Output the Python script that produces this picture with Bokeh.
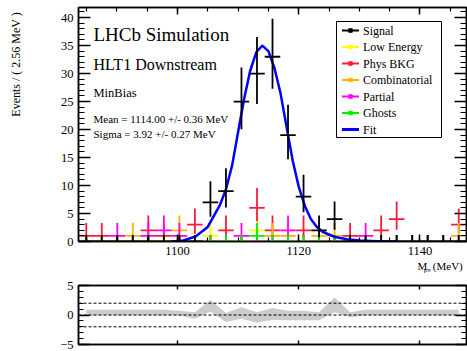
import numpy as np
from bokeh.plotting import figure
from bokeh.layouts import column, row
from bokeh.models import (Range1d, LinearAxis, SingleIntervalTicker, Label,
                          ColumnDataSource, Span)
from bokeh.core.properties import value
from bokeh.embed import file_html
from bokeh.resources import INLINE

FONT = "Liberation Serif"

# ---------------- data ----------------
X_MIN, X_MAX = 1083.68, 1147.68
Y_MAX = 41.8
BIN_WIDTH = 2.56
BIN_CENTERS = [1084.96, 1087.52, 1090.08, 1092.64, 1095.20, 1097.76, 1100.32, 1102.88,
               1105.44, 1108.00, 1110.56, 1113.12, 1115.68, 1118.24, 1120.80, 1123.36,
               1125.92, 1128.48, 1131.04, 1133.60, 1136.16, 1138.72, 1141.28, 1143.84,
               1146.40]

SIGNAL =        [0, 0, 0, 0, 0, 0, 0, 0, 7, 9, 25, 30, 33, 19, 8, 2, 4, 0, 0, 0, 0, 0, 0, 0, 0]
LOW_ENERGY =    [0, 0, 0, 0, 0, 0, 0, 0, 1, 0, 0, 2, 0, 0, 0, 0, 0, 0, 0, 0, 0, 0, 0, 0, 0]
PHYS_BKG =      [1, 1, 0, 0, 2, 1, 0, 3, 0, 2, 0, 6, 2, 0, 2, 0, 0, 1, 0, 2, 4, 0, 0, 0, 3]
COMBINATORIAL = [0, 0, 0, 1, 0, 0, 2, 0, 0, 0, 0, 0, 1, 1, 0, 1, 1, 0, 0, 0, 0, 0, 0, 0, 1]
PARTIAL =       [0, 0, 1, 0, 1, 2, 1, 0, 0, 0, 1, 0, 0, 2, 0, 0, 0, 0, 1, 0, 0, 0, 0, 0, 0]
GHOSTS =        [0, 0, 0, 0, 0, 0, 0, 0, 0, 0, 0, 1, 0, 0, 0, 0, 0, 0, 0, 0, 0, 0, 0, 0, 0]

FIT_MASS =  [1099, 1101, 1103, 1105, 1107, 1108, 1109, 1110, 1111, 1112, 1113, 1114, 1115,
             1116, 1117, 1118, 1119, 1120, 1121, 1122, 1123, 1124, 1126, 1128, 1130, 1133, 1136]
FIT_VALUE = [0.0, 0.2, 0.9, 2.6, 6.5, 9.3, 13.5, 19.5, 25.5, 30.5, 33.8, 35.0, 34.0,
             31.0, 26.5, 20.5, 14.5, 9.8, 6.4, 4.0, 2.6, 1.7, 0.8, 0.4, 0.2, 0.05, 0.0]

PULL_HI = [0.9, 0.9, 0.9, 0.9, 0.9, 0.9, 0.7, 0.45, 2.55, 0.35, 1.3, 0.45, 1.2, 0.7, 0.7,
           0.45, 2.95, 0.45, 0.9, 0.9, 0.9, 0.9, 0.9, 0.9, 0.9]
PULL_LO = [-0.1, -0.1, -0.1, -0.1, -0.1, -0.1, -0.1, -0.65, 0.55, -1.2, -0.65, -1.3, -0.8,
           -0.9, -0.9, -0.9, 0.45, -0.4, -0.1, -0.1, -0.1, -0.1, -0.1, -0.1, -0.1]
PULL_REF_LINES = [-2, 0, 2]

COLORS = {"Signal": "#000000", "Low Energy": "#ffff00", "Phys BKG": "#ff1a3c",
          "Combinatorial": "#ffb400", "Partial": "#ff00ff", "Ghosts": "#00ee00",
          "Fit": "#0000ff"}
SERIES = [  # drawing order (label, values)
    ("Low Energy", LOW_ENERGY),
    ("Phys BKG", PHYS_BKG),
    ("Combinatorial", COMBINATORIAL),
    ("Partial", PARTIAL),
    ("Ghosts", GHOSTS),
    ("Signal", SIGNAL),
]
LEGEND_LABELS = ["Signal", "Low Energy", "Phys BKG", "Combinatorial", "Partial", "Ghosts", "Fit"]

# ---------------- layout geometry (pixels) ----------------
FRAME_L, FRAME_R, FRAME_T, FRAME_B = 78, 466, 7, 241


def px_x(px):
    return X_MIN + (px - FRAME_L) * (X_MAX - X_MIN) / (FRAME_R - FRAME_L)


def px_y(py):
    return (FRAME_B - py) * Y_MAX / (FRAME_B - FRAME_T)


def poisson_interval(n):
    if n == 0:
        return 0.0, 1.148
    lo = n * (1 - 1 / (9 * n) - 1 / (3 * np.sqrt(n))) ** 3
    hi = (n + 1) * (1 - 1 / (9 * (n + 1)) + 1 / (3 * np.sqrt(n + 1))) ** 3
    return lo, hi


def cross_source(values):
    x0, x1, y0, y1 = [], [], [], []
    for c, v in zip(BIN_CENTERS, values):
        lo, hi = poisson_interval(v)
        x0 += [c - BIN_WIDTH / 2, c]
        x1 += [c + BIN_WIDTH / 2, c]
        y0 += [v, lo]
        y1 += [v, hi]
    return ColumnDataSource(dict(x0=x0, x1=x1, y0=y0, y1=y1))


def style_axis(ax, labels=True, major_in=12, minor_in=6):
    ax.axis_line_color = "black"
    ax.axis_line_width = 1.5
    ax.major_tick_in = major_in
    ax.major_tick_out = 0
    ax.minor_tick_in = minor_in
    ax.minor_tick_out = 0
    ax.major_tick_line_color = "black"
    ax.minor_tick_line_color = "black"
    ax.major_tick_line_width = 1.5
    ax.minor_tick_line_width = 1.2
    ax.major_label_text_font = FONT
    ax.major_label_text_font_size = "12.5px"
    ax.major_label_text_color = "black"
    ax.major_label_standoff = 5
    if not labels:
        ax.major_label_text_font_size = "1px"
        ax.major_label_text_color = None
        ax.major_label_text_alpha = 0
        ax.major_label_standoff = 0


def text_figure(w, h):
    f = figure(width=w, height=h, x_range=Range1d(0, w), y_range=Range1d(0, h),
               output_backend="svg", toolbar_location=None,
               x_axis_location=None, y_axis_location=None, min_border=0,
               min_border_left=0, min_border_right=0, min_border_top=0, min_border_bottom=0)
    f.outline_line_color = None
    f.xgrid.grid_line_color = None
    f.ygrid.grid_line_color = None
    return f


x_range = Range1d(X_MIN, X_MAX)

# ---------------- y-axis title strip ----------------
ylab = text_figure(25, 258)
ylab.text(x=[15], y=[253], text=["Events / ( 2.56 MeV )"], angle=np.pi / 2,
          text_align="right", text_baseline="middle", text_font=value(FONT),
          text_font_size=value("12px"), text_color="black")

# ---------------- main plot ----------------
p = figure(width=442, height=258, x_range=x_range, y_range=Range1d(0, Y_MAX),
           output_backend="svg", toolbar_location=None,
           min_border_left=FRAME_L - 25, min_border_right=1, min_border_top=FRAME_T,
           min_border_bottom=258 - FRAME_B)
p.xgrid.grid_line_color = None
p.ygrid.grid_line_color = None
p.outline_line_color = "black"
p.outline_line_width = 1.5
p.background_fill_color = "white"

p.xaxis.ticker = SingleIntervalTicker(interval=20, num_minor_ticks=4)
p.yaxis.ticker = SingleIntervalTicker(interval=5, num_minor_ticks=5)
style_axis(p.xaxis[0], True, 7, 4)
style_axis(p.yaxis[0], True, 12, 6)
top_ax = LinearAxis(ticker=SingleIntervalTicker(interval=20, num_minor_ticks=4))
style_axis(top_ax, False, 7, 4)
p.add_layout(top_ax, "above")
right_ax = LinearAxis(ticker=SingleIntervalTicker(interval=5, num_minor_ticks=5))
style_axis(right_ax, False, 12, 6)
p.add_layout(right_ax, "right")

for name, vals in SERIES:
    if name == "Signal":
        p.line(FIT_MASS, FIT_VALUE, line_color=COLORS["Fit"], line_width=2.5)
    p.segment("x0", "y0", "x1", "y1", source=cross_source(vals),
              line_color=COLORS[name], line_width=1.8)

# legend box (drawn by hand so that its width matches the reference)
p.quad(left=[px_x(336)], right=[px_x(441)], top=[px_y(21)], bottom=[px_y(137)],
       fill_color="white", line_color="black", line_width=1)
leg_y = [px_y(30 + 16.5 * i) for i in range(len(LEGEND_LABELS))]
leg_cols = [COLORS[n] for n in LEGEND_LABELS]
p.segment(x0=[px_x(341.5)] * len(LEGEND_LABELS), x1=[px_x(358.5)] * len(LEGEND_LABELS),
          y0=leg_y, y1=leg_y, line_color=leg_cols,
          line_width=[2] * (len(LEGEND_LABELS) - 1) + [3])
p.scatter(x=[px_x(350)] * (len(LEGEND_LABELS) - 1), y=leg_y[:-1], marker="square",
          size=3.5, color=leg_cols[:-1])
p.text(x=[px_x(362.5)] * len(LEGEND_LABELS), y=leg_y, text=LEGEND_LABELS,
       text_font=value(FONT), text_font_size=value("12px"), text_baseline="middle",
       text_align="left", text_color="black")

TEXTS = [  # (text, left px, centre px, size)
    ("LHCb Simulation", 93, 34, "19px"),
    ("HLT1 Downstream", 93, 63.5, "16px"),
    ("MinBias", 93, 92, "12.5px"),
    ("Mean =  1114.00 +/- 0.36 MeV", 93, 118, "11px"),
    ("Sigma =  3.92 +/- 0.27 MeV", 93, 133.7, "11px"),
]
for t, x, y, s in TEXTS:
    p.add_layout(Label(x=px_x(x), y=px_y(y), text=t, text_font=FONT, text_font_size=s,
                       text_baseline="middle", text_align="left", text_color="black"))

# ---------------- x-axis title strip ----------------
xlab = text_figure(467, 18)
xlab.text(x=[408, 426.5], y=[10.5, 10.5], text=["M", "(MeV)"], text_font=value(FONT),
          text_font_size=value("11px"), text_baseline="middle", text_color="black")
xlab.text(x=[415.5], y=[7], text=["pπ"], text_font=value(FONT),
          text_font_size=value("7px"), text_baseline="middle", text_color="black")

# ---------------- pull plot ----------------
q = figure(width=467, height=75, x_range=x_range, y_range=Range1d(-5, 5),
           output_backend="svg", toolbar_location=None,
           min_border_left=FRAME_L, min_border_right=1, min_border_top=9, min_border_bottom=7)
q.xgrid.grid_line_color = None
q.ygrid.grid_line_color = None
q.outline_line_color = "black"
q.outline_line_width = 1.5
q.varea(x=BIN_CENTERS, y1=PULL_LO, y2=PULL_HI, fill_color="#cccccc")
for yv in PULL_REF_LINES:
    q.add_layout(Span(location=yv, dimension="width", line_color="black",
                      line_dash="3 2", line_width=1))
q.xaxis.ticker = SingleIntervalTicker(interval=20, num_minor_ticks=0)
q.yaxis.ticker = SingleIntervalTicker(interval=5, num_minor_ticks=5)
style_axis(q.xaxis[0], False, 4, 0)
style_axis(q.yaxis[0], True, 11, 5)
q.yaxis[0].major_label_overrides = {-5: "−5"}
qt = LinearAxis(ticker=SingleIntervalTicker(interval=20, num_minor_ticks=0))
style_axis(qt, False, 4, 0)
q.add_layout(qt, "above")
qr = LinearAxis(ticker=SingleIntervalTicker(interval=5, num_minor_ticks=5))
style_axis(qr, False, 11, 5)
q.add_layout(qr, "right")

layout = column(row(ylab, p), xlab, q)
open("out.html", "w").write(file_html(layout, INLINE))
